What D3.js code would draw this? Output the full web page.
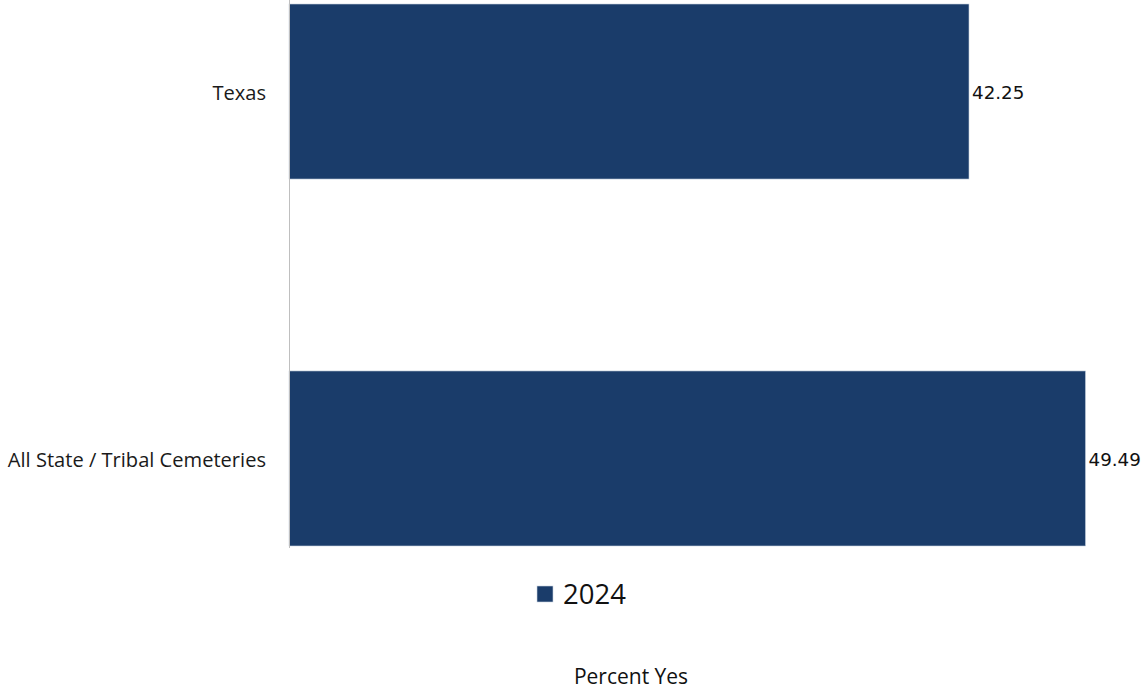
<!DOCTYPE html>
<html>
<head>
<meta charset="utf-8">
<script src="https://cdn.jsdelivr.net/npm/d3@7"></script>
<style>
  html, body { margin: 0; padding: 0; background: #fff; }
  svg { display: block; }
</style>
</head>
<body>
<svg id="chart" width="1145" height="689"></svg>
<script>
const categories = ["Texas", "All State / Tribal Cemeteries"];
const values2024 = [42.25, 49.49];
const seriesName = "2024";
const axisTitle = "Percent Yes";

const svg = d3.select("#chart");
const barColor = "#1a3c6a";

const x = d3.scaleLinear().domain([0, 50]).range([289, 289 + 50 * (680 / 42.25)]);
const y = d3.scaleBand().domain(categories).range([4, 546]).paddingInner(0.523).paddingOuter(0);

// bars
svg.selectAll("rect.bar").data(categories).enter().append("rect")
  .attr("class", "bar")
  .attr("x", x(0))
  .attr("y", d => y(d))
  .attr("width", (d, i) => x(values2024[i]) - x(0))
  .attr("height", y.bandwidth())
  .attr("fill", barColor)
  .attr("stroke", "#c9d3e0")
  .attr("stroke-width", 0.6);

// axis line
svg.append("line")
  .attr("x1", 289.5).attr("x2", 289.5)
  .attr("y1", 0).attr("y2", 548)
  .attr("stroke", "#bfbfbf").attr("stroke-width", 1);

// category labels
svg.selectAll("text.cat").data(categories).enter().append("text")
  .attr("class", "cat")
  .attr("x", 266)
  .attr("y", d => y(d) + y.bandwidth() / 2 + 1.5)
  .attr("dy", "0.35em")
  .attr("text-anchor", "end")
  .attr("font-family", "'Open Sans', sans-serif")
  .attr("font-size", 20.1)
  .attr("fill", "#1a1a1a")
  .text(d => d);

// value labels
svg.selectAll("text.val").data(categories).enter().append("text")
  .attr("class", "val")
  .attr("x", (d, i) => x(values2024[i]) + 3)
  .attr("y", d => y(d) + y.bandwidth() / 2 + 1.5)
  .attr("dy", "0.35em")
  .attr("font-family", "'DejaVu Sans', sans-serif")
  .attr("font-size", 18.3)
  .attr("fill", "#111")
  .text((d, i) => values2024[i].toFixed(2));

// legend
svg.append("rect")
  .attr("x", 537).attr("y", 586)
  .attr("width", 16).attr("height", 16)
  .attr("fill", barColor)
  .attr("stroke", "#c9d3e0").attr("stroke-width", 0.6);
svg.append("text")
  .attr("x", 563).attr("y", 594)
  .attr("dy", "0.35em")
  .attr("font-family", "'Open Sans', sans-serif")
  .attr("font-size", 27.5)
  .attr("fill", "#111")
  .text(seriesName);

// axis title
svg.append("text")
  .attr("x", 631).attr("y", 677)
  .attr("dy", "0.35em")
  .attr("text-anchor", "middle")
  .attr("font-family", "'Open Sans', sans-serif")
  .attr("font-size", 21)
  .attr("fill", "#111")
  .text(axisTitle);
</script>
</body>
</html>
